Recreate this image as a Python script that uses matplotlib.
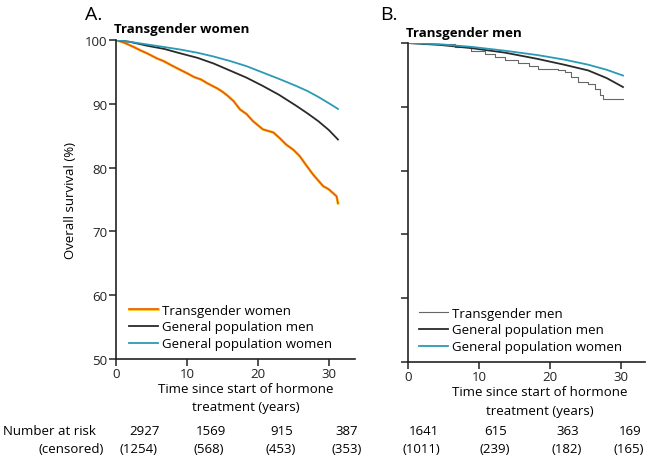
import matplotlib
matplotlib.use("Agg")
import matplotlib.pyplot as plt
import matplotlib.patheffects as pe

plt.rcParams['font.family'] = ['Open Sans', 'DejaVu Sans']

# panel A: transgender women (years, survival %)
tw_years = [0, 1.1, 2.5, 3.4, 4.4, 5.8, 6.7, 7.7, 9.1, 10.0, 11.0, 12.0, 12.9, 14.3, 15.0,
            15.7, 16.6, 17.5, 18.4, 19.3, 20.7, 22.2, 23.1, 24.0, 25.0, 25.9, 26.8,
            27.8, 29.2, 30.0, 30.6, 31.1, 31.3]
tw_surv = [100, 99.6, 98.9, 98.4, 97.9, 97.1, 96.7, 96.1, 95.3, 94.8, 94.2, 93.8, 93.2,
           92.4, 91.9, 91.3, 90.4, 89.1, 88.4, 87.3, 86.0, 85.5, 84.6, 83.6, 82.8, 81.8,
           80.4, 78.9, 77.1, 76.6, 76.0, 75.5, 74.4]
gm_a_years = [0, 2.0, 4.4, 6.8, 9.1, 11.5, 13.8, 16.1, 18.4, 20.7, 23.0, 25.4, 27.0,
              28.5, 30.0, 31.3]
gm_a_surv = [100, 99.7, 99.1, 98.6, 97.9, 97.2, 96.3, 95.2, 94.1, 92.8, 91.4, 89.7, 88.5,
             87.3, 85.9, 84.4]
gw_a_years = [0, 2.0, 4.4, 6.8, 9.1, 11.5, 13.8, 16.1, 18.4, 20.7, 23.0, 25.4, 27.0,
              28.5, 30.0, 31.3]
gw_a_surv = [100, 99.7, 99.3, 98.9, 98.5, 98.0, 97.4, 96.7, 95.9, 94.9, 93.9, 92.8, 92.0,
             91.1, 90.1, 89.2]

# panel B: transgender men
tm_years = [0, 2.0, 4.2, 6.6, 8.9, 10.8, 12.2, 13.6, 15.5, 17.0, 18.3, 21.1, 22.1,
            23.0, 23.9, 25.4, 26.3, 27.0, 27.5, 30.3]
tm_surv = [100, 99.9, 99.8, 99.4, 98.8, 98.3, 97.8, 97.3, 96.8, 96.4, 96.0, 95.7, 95.4,
           94.7, 93.9, 93.6, 92.8, 91.8, 91.3, 91.3]
gm_b_years = [0, 4.5, 8.9, 13.6, 18.3, 22.0, 25.4, 28.0, 30.3]
gm_b_surv = [100, 99.7, 99.2, 98.5, 97.5, 96.6, 95.7, 94.5, 93.1]
gw_b_years = [0, 4.5, 8.9, 13.6, 18.3, 22.0, 25.4, 28.0, 30.3]
gw_b_surv = [100, 99.8, 99.4, 98.8, 98.1, 97.4, 96.6, 95.8, 94.9]

at_risk_a = ["2927", "1569", "915", "387"]
censored_a = ["(1254)", "(568)", "(453)", "(353)"]
at_risk_b = ["1641", "615", "363", "169"]
censored_b = ["(1011)", "(239)", "(182)", "(165)"]

W, H = 647, 464
fig = plt.figure(figsize=(W / 100, H / 100), dpi=100)
axA = fig.add_axes([116 / W, 1 - 360 / H, (355 - 116) / W, (360 - 41) / H])
axB = fig.add_axes([408 / W, 1 - 363 / H, (645 - 408) / W, (363 - 44) / H])

orange = "#e8531f"
black = "#2a2a2a"
teal = "#2b9ab5"

axA.plot(tw_years, tw_surv, color=orange, lw=1.1, label="Transgender women",
         path_effects=[pe.Stroke(linewidth=1.9, foreground="#f6c800"), pe.Normal()])
axA.plot(gm_a_years, gm_a_surv, color=black, lw=1.3, label="General population men")
axA.plot(gw_a_years, gw_a_surv, color=teal, lw=1.3, label="General population women")

axB.plot(tm_years, tm_surv, color="#666666", lw=0.8, drawstyle="steps-post",
         label="Transgender men")
axB.plot(gm_b_years, gm_b_surv, color=black, lw=1.3, label="General population men")
axB.plot(gw_b_years, gw_b_surv, color=teal, lw=1.3, label="General population women")

for ax, dx in ((axA, 0.018), (axB, 0.01)):
    ax.set_ylim(50, 100)
    ax.set_xticks([0, 10, 20, 30])
    ax.set_yticks([50, 60, 70, 80, 90, 100])
    for s in ("top", "right"):
        ax.spines[s].set_visible(False)
    for s in ("left", "bottom"):
        ax.spines[s].set_linewidth(1.2)
        ax.spines[s].set_color("#222222")
    ax.tick_params(direction="out", length=5, width=1.1, labelsize=9.5, pad=1,
                   colors="#222222")
    ax.legend(loc="lower left", bbox_to_anchor=(dx, 0.0), frameon=False, fontsize=9.5,
              handlelength=2.2, handletextpad=0.3, labelspacing=0.3, borderaxespad=0.25)
axA.set_xlim(0, 33.7)
axB.set_xlim(0, 33.4)
axB.set_yticklabels([])
axA.set_ylabel("Overall survival (%)", fontsize=9.5, labelpad=6)

fig.text(85 / W, 1 - 15 / H, "A.", fontsize=14, va="center", ha="left")
fig.text(380 / W, 1 - 15 / H, "B.", fontsize=14, va="center", ha="left")
fig.text(114 / W, 1 - 30 / H, "Transgender women", fontsize=9.5, fontweight="bold",
         va="center", ha="left")
fig.text(406 / W, 1 - 33 / H, "Transgender men", fontsize=9.5, fontweight="bold",
         va="center", ha="left")

fig.text(246 / W, 1 - 399 / H, "Time since start of hormone\ntreatment (years)",
         fontsize=9.5, ha="center", va="center", linespacing=1.5)
fig.text(540 / W, 1 - 402 / H, "Time since start of hormone\ntreatment (years)",
         fontsize=9.5, ha="center", va="center", linespacing=1.5)

fig.text(3 / W, 1 - 432 / H, "Number at risk", fontsize=9.5, va="center", ha="left")
fig.text(104 / W, 1 - 450 / H, "(censored)", fontsize=9.5, va="center", ha="right")
risk_x = [145, 211, 282, 347, 424, 496, 568, 630]
cens_x = [138, 209, 281, 347, 421, 495, 567, 629]
for lab, x in zip(at_risk_a + at_risk_b, risk_x):
    fig.text(x / W, 1 - 432 / H, lab, fontsize=9.5, va="center", ha="center")
for lab, x in zip(censored_a + censored_b, cens_x):
    fig.text(x / W, 1 - 450 / H, lab, fontsize=9.5, va="center", ha="center")

fig.savefig("out.png", dpi=100, facecolor="white")
